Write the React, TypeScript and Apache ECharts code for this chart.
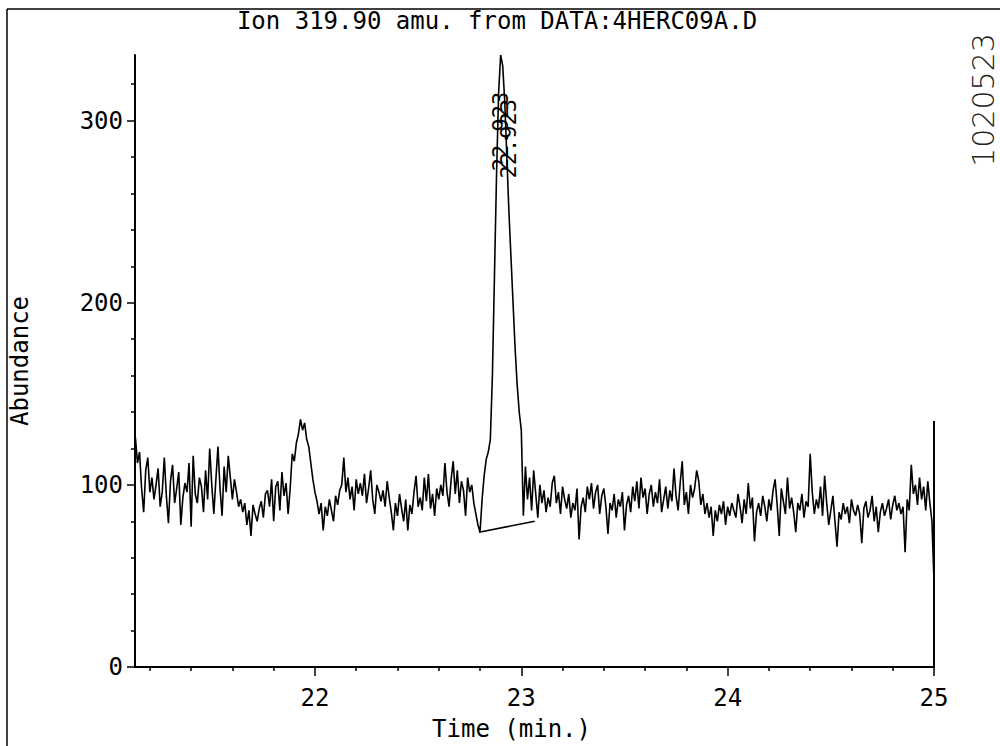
import React, { useEffect, useRef } from "react";
import * as echarts from "echarts";

const TITLE = "Ion 319.90 amu. from DATA:4HERC09A.D";
const X_NAME = "Time (min.)";
const Y_NAME = "Abundance";
const STAMP = "1020523";
const PEAK_LABEL = "22.923";

const X_MIN = 21.128;
const X_MAX = 25.0;
const Y_MIN = 0;
const Y_MAX = 336;

const X_MAJOR = [22, 23, 24, 25];
const X_MINOR = [21.2, 21.4, 21.6, 21.8, 22.2, 22.4, 22.6, 22.8, 23.2, 23.4, 23.6, 23.8, 24.2, 24.4, 24.6, 24.8];
const Y_MAJOR = [0, 100, 200, 300];
const Y_MINOR = [20, 40, 60, 80, 120, 140, 160, 180, 220, 240, 260, 280, 320];

// scan start time and step (min)
const T0 = 21.13;
const DT = 0.01;

// abundance, one value per 0.01 min
const ABUNDANCE = [
  126, 112, 118, 98, 85, 108, 115, 96, 104, 92,
  100, 109, 88, 96, 115, 94, 79, 102, 111, 90,
  98, 107, 78, 93, 101, 96, 112, 77, 116, 95,
  90, 104, 99, 85, 108, 92, 120, 100, 84, 103,
  121, 98, 83, 110, 96, 116, 104, 92, 103, 96,
  88, 92, 85, 90, 78, 86, 72, 89, 84, 80,
  87, 91, 82, 95, 97, 88, 103, 80, 99, 102,
  86, 107, 94, 101, 84, 98, 117, 113, 123, 128,
  136, 130, 134, 125, 121, 112, 103, 96, 91, 84,
  90, 75, 88, 83, 92, 86, 80, 94, 89, 97,
  100, 115, 96, 104, 92, 99, 86, 103, 95, 101,
  94, 106, 90, 98, 108, 92, 84, 100, 96, 91,
  97, 88, 102, 93, 85, 75, 90, 83, 95, 87,
  80, 92, 75, 89, 84, 96, 105, 88, 93, 86,
  104, 91, 106, 87, 95, 83, 98, 92, 100, 94,
  112, 96, 88, 103, 113, 95, 108, 90, 102, 97,
  83, 104, 96, 100, 90, 84, 78, 74, 92, 105,
  114, 118, 125, 160, 215, 270, 315, 336, 330, 310,
  280, 250, 225, 200, 175, 155, 140, 130, 83, 110,
  92, 104, 86, 108, 95, 82, 100, 90, 97, 85,
  93, 88, 101, 105, 90, 96, 84, 99, 92, 87,
  95, 82, 90, 86, 98, 70, 88, 93, 85, 99,
  92, 101, 87, 96, 100, 84, 94, 98, 88, 73,
  90, 86, 95, 82, 92, 88, 96, 75, 89, 94,
  85, 99, 91, 102, 87, 104, 93, 98, 84, 95,
  100, 88, 96, 90, 103, 85, 92, 99, 87, 97,
  91, 109, 94, 86, 101, 113, 89, 96, 84, 100,
  93, 98, 108, 102, 89, 95, 84, 90, 82, 88,
  72, 86, 80, 89, 84, 91, 78, 88, 83, 90,
  86, 82, 95, 88, 79, 92, 84, 101, 87, 93,
  69, 85, 90, 83, 94, 88, 80, 92, 86, 97,
  103, 89, 72, 98, 91, 84, 104, 87, 93, 85,
  74, 90, 86, 95, 82, 91, 88, 117, 96, 84,
  92, 87, 99, 83, 105, 90, 78, 86, 94, 80,
  66, 85, 81, 90, 84, 88, 79, 92, 86, 83,
  89, 84, 68, 87, 91, 82, 86, 94, 80, 88,
  74, 85, 90, 83, 87, 92, 81, 89, 94, 86,
  90, 84, 88, 63, 92, 86, 111, 95, 100, 89,
  104, 92, 99, 86, 102, 90, 80, 47,
];

// integration baseline under the peak [time, abundance]
const BASELINE = [
  [22.795, 74],
  [23.065, 80],
];

// end-of-window marker at 25 min
const END_MARKER = [
  [25.0, 0],
  [25.0, 135],
];

// peak label anchors [time, abundance]
const LABEL_A = [22.898, 294];
const LABEL_B = [22.94, 290];

const FONT = "DejaVu Sans Mono";
const INK = "#000000";

export default function App() {
  const ref = useRef<HTMLDivElement>(null);

  useEffect(() => {
    if (!ref.current) return;
    const chart = echarts.init(ref.current, null, { renderer: "svg" });

    const trace = ABUNDANCE.map((v, i) => [+(T0 + i * DT).toFixed(2), v]);

    const labelStyle = {
      show: true,
      rotate: 90,
      position: "inside",
      fontFamily: FONT,
      fontSize: 22,
      color: INK,
      formatter: PEAK_LABEL,
    };

    const option: any = {
      animation: false,
      backgroundColor: "#ffffff",
      title: {
        text: TITLE,
        left: 492,
        top: 4,
        textAlign: "center",
        textStyle: { fontFamily: FONT, fontSize: 24, fontWeight: "normal", color: INK },
      },
      grid: { left: 130, right: 66, top: 55, bottom: 73, containLabel: false },
      xAxis: [
        {
          type: "value",
          min: X_MIN,
          max: X_MAX,
          name: X_NAME,
          nameLocation: "middle",
          nameGap: 50,
          nameTextStyle: { fontFamily: FONT, fontSize: 24, color: INK, padding: [0, 46, 0, 0] },
          axisLine: { show: true, onZero: false, lineStyle: { color: INK, width: 2 } },
          axisTick: { show: true, customValues: X_MAJOR, length: 9, lineStyle: { color: INK, width: 1.5 } },
          axisLabel: {
            customValues: X_MAJOR,
            margin: 19,
            fontFamily: FONT,
            fontSize: 24,
            color: INK,
            formatter: (v: number) => String(Math.round(v)),
          },
          splitLine: { show: false },
        },
        {
          type: "value",
          min: X_MIN,
          max: X_MAX,
          position: "bottom",
          axisLine: { show: false },
          axisTick: { show: true, customValues: X_MINOR, length: 4, lineStyle: { color: INK, width: 1.5 } },
          axisLabel: { show: false },
          splitLine: { show: false },
        },
      ],
      yAxis: [
        {
          type: "value",
          min: Y_MIN,
          max: Y_MAX,
          name: Y_NAME,
          nameLocation: "middle",
          nameRotate: 90,
          nameGap: 103,
          nameTextStyle: { fontFamily: FONT, fontSize: 24, color: INK },
          axisLine: { show: true, onZero: false, lineStyle: { color: INK, width: 2 } },
          axisTick: { show: true, customValues: Y_MAJOR, length: 8, lineStyle: { color: INK, width: 1.5 } },
          axisLabel: {
            customValues: Y_MAJOR,
            margin: 12,
            fontFamily: FONT,
            fontSize: 24,
            color: INK,
          },
          splitLine: { show: false },
        },
        {
          type: "value",
          min: Y_MIN,
          max: Y_MAX,
          position: "left",
          axisLine: { show: false },
          axisTick: { show: true, customValues: Y_MINOR, length: 4, lineStyle: { color: INK, width: 1.5 } },
          axisLabel: { show: false },
          splitLine: { show: false },
        },
      ],
      series: [
        {
          name: "Ion 319.90",
          type: "line",
          data: trace,
          showSymbol: false,
          symbol: "none",
          lineStyle: { color: INK, width: 1.6 },
          markPoint: {
            symbol: "circle",
            symbolSize: 1,
            itemStyle: { color: "rgba(0,0,0,0)" },
            label: labelStyle,
            data: [
              { coord: LABEL_A, value: PEAK_LABEL },
              { coord: LABEL_B, value: PEAK_LABEL },
            ],
          },
        },
        {
          name: "baseline",
          type: "line",
          data: BASELINE,
          showSymbol: false,
          symbol: "none",
          lineStyle: { color: INK, width: 1.6 },
        },
        {
          name: "end",
          type: "line",
          data: END_MARKER,
          showSymbol: false,
          symbol: "none",
          lineStyle: { color: INK, width: 2 },
        },
      ],
      graphic: [
        { type: "line", shape: { x1: 7, y1: 9, x2: 1000, y2: 9 }, style: { stroke: INK, lineWidth: 1.5 } },
        { type: "line", shape: { x1: 7, y1: 9, x2: 7, y2: 746 }, style: { stroke: INK, lineWidth: 1.5 } },
        {
          type: "text",
          x: 983,
          y: 100,
          rotation: Math.PI / 2,
          style: {
            text: STAMP,
            fontFamily: "DejaVu Sans",
            fontSize: 30,
            fontWeight: 300,
            fill: "#222222",
            align: "center",
            verticalAlign: "middle",
          },
        },
      ],
    };

    chart.setOption(option);
    return () => chart.dispose();
  }, []);

  return (
    <div
      ref={ref}
      style={{ position: "fixed", left: 0, top: 0, width: 1000, height: 746, background: "#fff" }}
    />
  );
}
